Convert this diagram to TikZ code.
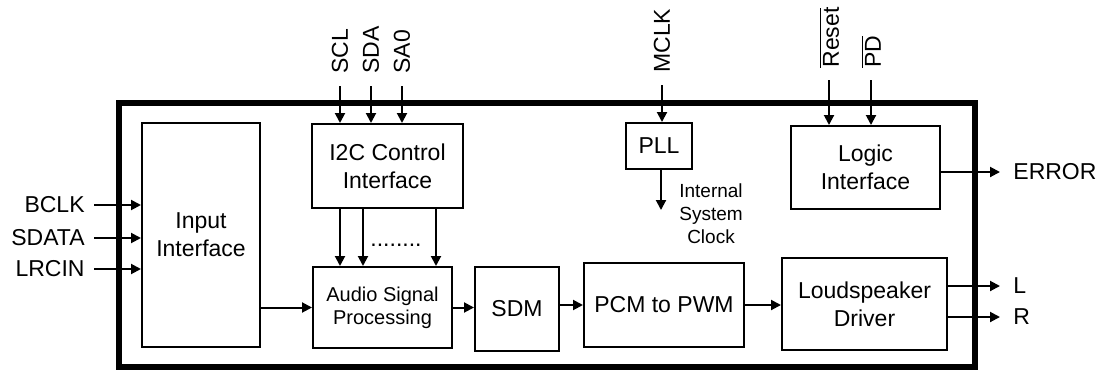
\documentclass[tikz,border=0pt]{standalone}
\usepackage{fontspec}
\setmainfont{Liberation Sans}
\usetikzlibrary{arrows.meta}
\begin{document}
\begin{tikzpicture}[%
            x=0.5pt, y=-0.5pt,
            mytext/.style={font=\fontsize{11.5}{14}\selectfont, inner sep=0pt},
            myblock/.style={mytext, draw, line width=1pt, align=center},
            mysig/.style={line width=1pt, -{Triangle[length=5pt,width=5pt]}},
            mypin/.style={mytext, rotate=90, anchor=west, inner xsep=6pt}
    ]
        \useasboundingbox (0,0) rectangle (1103,370);
        \draw [line width=3pt] (118.5,103) rectangle (974.5,367);

        \node [myblock, minimum width=59pt, minimum height=112pt] (input) at (201,235) {Input\\Interface};
        \node [myblock, minimum width=75.5pt, minimum height=42pt] (i2c) at (387.5,166) {I2C Control\\Interface};
        \node [myblock, minimum width=69.5pt, minimum height=40.5pt, font=\fontsize{10}{11.5}\selectfont] (asp) at (382.5,307.5) {Audio Signal\\Processing};
        \node [myblock, minimum width=42pt, minimum height=42pt] (sdm) at (517,309) {SDM};
        \node [myblock, minimum width=80pt, minimum height=42pt] (pcm) at (664,305) {PCM to PWM};
        \node [myblock, minimum width=82.5pt, minimum height=46pt] (lsd) at (864.5,304) {Loudspeaker\\Driver};
        \node [myblock, minimum width=33pt, minimum height=23pt] (pll) at (659,146) {PLL};
        \node [myblock, minimum width=74.5pt, minimum height=41.5pt] (logic) at (865.5,167.5) {Logic\\Interface};

        \node [mypin] (scl) at (340,86) {SCL};
        \node [mypin] (sda) at (371,86) {SDA};
        \node [mypin] (sao) at (402,86) {SA0};
        \node [mypin] (mclk) at (662,85) {MCLK};
        \node [mypin] (reset) at (829,80) {$\overline{\hbox{Reset}}$};
        \node [mypin] (pd) at (871,80) {$\overline{\hbox{PD}}$};
        \foreach \p in {scl,sda,sao}
            \draw [mysig] (\p.west) -- (\p.west |- i2c.north);
        \draw [mysig] (mclk.west) -- (mclk.west |- pll.north);
        \draw [mysig] (reset.west) -- (reset.west |- logic.north);
        \draw [mysig] (pd.west) -- (pd.west |- logic.north);

        \node [mytext, anchor=east, inner xsep=4.5pt] (bclk) at (94,205) {BCLK};
        \node [mytext, anchor=east, inner xsep=4.5pt] (sdata) at (94,238) {SDATA};
        \node [mytext, anchor=east, inner xsep=4.5pt] (lrcin) at (94,269) {LRCIN};
        \foreach \p in {bclk,sdata,lrcin}
            \draw [mysig] (\p.east) -- (\p.east -| input.west);

        \node [mytext, anchor=west, inner xsep=6.5pt] (error) at (1000,172) {ERROR};
        \node [mytext, anchor=west, inner xsep=6.5pt] (lout) at (1000,286) {L};
        \node [mytext, anchor=west, inner xsep=6.5pt] (rout) at (1000,317) {R};
        \draw [mysig] (error.west -| logic.east) -- (error.west);
        \draw [mysig] (lout.west -| lsd.east) -- (lout.west);
        \draw [mysig] (rout.west -| lsd.east) -- (rout.west);

        \foreach \x in {340,363,436}
            \draw [mysig] (i2c.south -| \x,0) -- (asp.north -| \x,0);
        \node [mytext, anchor=base] (dots) at (396,246) {........};

        \draw [mysig] (input.east |- asp.west) -- (asp.west);
        \draw [mysig] (asp.east) -- (asp.east -| sdm.west);
        \draw [mysig] (sdm.east |- pcm.west) -- (pcm.west);
        \draw [mysig] (pcm.east) -- (pcm.east -| lsd.west);

        \coordinate (clk) at (661,210);
        \draw [mysig] (pll.south -| clk) -- (clk);
        \node [mytext, font=\fontsize{9.5}{11.5}\selectfont, align=center] (clktext) at (711,214) {Internal\\System\\Clock};
\end{tikzpicture}
\end{document}
